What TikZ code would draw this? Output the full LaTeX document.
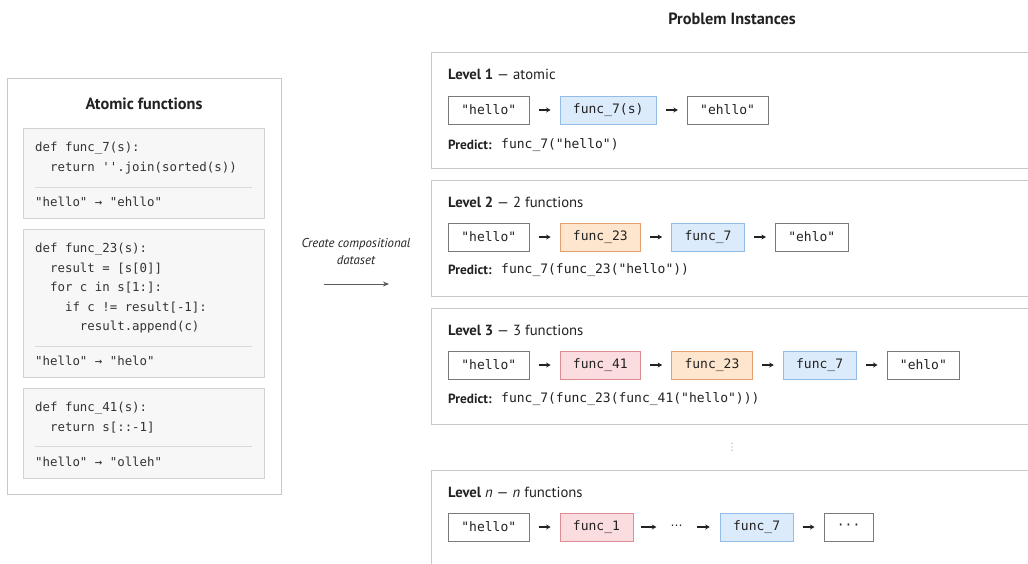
\documentclass[tikz,border=0pt]{standalone}
\usepackage{fontspec}
\setmainfont{PT Sans}
\setmonofont{DejaVu Sans Mono}
\newfontfamily\symfont{DejaVu Sans}
\usetikzlibrary{positioning,arrows.meta}
\definecolor{ink}{HTML}{222222}
\definecolor{codeink}{HTML}{333333}
\definecolor{panelline}{HTML}{C8C8C8}
\definecolor{cardfill}{HTML}{F7F7F7}
\definecolor{cardline}{HTML}{D2D2D2}
\definecolor{sepline}{HTML}{DADADA}
\definecolor{blueF}{HTML}{DCEBFB}
\definecolor{blueD}{HTML}{93BDE6}
\definecolor{orangeF}{HTML}{FDE5CE}
\definecolor{orangeD}{HTML}{E4A070}
\definecolor{redF}{HTML}{FBDCDF}
\definecolor{redD}{HTML}{DE8C94}
\definecolor{boxline}{HTML}{7A7A7A}
\definecolor{dotgray}{HTML}{AAAAAA}
\begin{document}
\begin{tikzpicture}[x=1pt,y=-1pt,
  panel/.style={draw=panelline,line width=1pt,fill=white},
  card/.style={draw=cardline,line width=0.8pt,fill=cardfill},
  sep/.style={draw=sepline,line width=0.8pt},
  codeline/.style={anchor=west,inner sep=0pt,font=\fontsize{12.4}{14}\ttfamily,text=codeink},
  heading/.style={inner sep=0pt,font=\fontsize{16.3}{18}\selectfont\bfseries,text=ink},
  lvl/.style={anchor=west,inner sep=0pt,font=\fontsize{14.7}{17}\selectfont,text=ink},
  predlabel/.style={anchor=west,inner sep=0pt,font=\fontsize{13.3}{15}\selectfont\bfseries,text=ink},
  predcode/.style={anchor=west,inner sep=0pt,font=\fontsize{13}{15}\ttfamily,text=ink},
  pbox/.style={draw=boxline,line width=0.8pt,fill=white,minimum height=28pt,inner xsep=13pt,inner ysep=0pt,font=\fontsize{13}{15}\ttfamily,text=ink},
  fblue/.style={pbox,draw=blueD,fill=blueF},
  forange/.style={pbox,draw=orangeD,fill=orangeF},
  fred/.style={pbox,draw=redD,fill=redF},
  arr/.style={-{Stealth[length=4.5pt,width=5pt]},line width=1.1pt,draw=ink},
  bigarr/.style={-{Stealth[length=6pt,width=5pt]},line width=0.9pt,draw=black!65},
  node distance=30pt
]
\clip (0,0) rectangle (1028,563);
\fill[white] (0,0) rectangle (1028,563);

% ---------- left panel ----------
\draw[panel] (7,78) rectangle (281,494);
\node[heading] (atitle) at (144,104) {Atomic functions};

\draw[card] (23,128) rectangle (264,218);
\node[codeline] (c1a) at (35,148) {def func\_7(s):};
\node[codeline] (c1b) at (35,168) {\ \ return ''.join(sorted(s))};
\draw[sep] (35,187) -- (252,187);
\node[codeline] (c1r) at (35,202) {"hello" → "ehllo"};

\draw[card] (23,229) rectangle (264,377);
\node[codeline] (c2a) at (35,249) {def func\_23(s):};
\node[codeline] (c2b) at (35,268.5) {\ \ result = [s[0]]};
\node[codeline] (c2c) at (35,288) {\ \ for c in s[1:]:};
\node[codeline] (c2d) at (35,307.5) {\ \ \ \ if c != result[-1]:};
\node[codeline] (c2e) at (35,327) {\ \ \ \ \ \ result.append(c)};
\draw[sep] (35,346) -- (252,346);
\node[codeline] (c2r) at (35,361) {"hello" → "helo"};

\draw[card] (23,388) rectangle (264,478);
\node[codeline] (c3a) at (35,408) {def func\_41(s):};
\node[codeline] (c3b) at (35,428) {\ \ return s[::-1]};
\draw[sep] (35,446) -- (252,446);
\node[codeline] (c3r) at (35,462) {"hello" → "olleh"};

% ---------- middle arrow ----------
\node[inner sep=0pt,align=center,font=\fontsize{12.8}{17}\selectfont\itshape,text=ink] (mid) at (356,252) {Create compositional\\dataset};
\coordinate (ma) at (324,284);
\coordinate (mb) at (389,284);
\draw[bigarr] (ma) -- (mb);

% ---------- right side ----------
\node[heading] (ptitle) at (732,19) {Problem Instances};

% Level 1
\draw[panel] (1040,52) -- (431,52) -- (431,168) -- (1040,168);
\node[lvl] (l1t) at (448,74) {\textbf{Level 1} — atomic};
\node[pbox,anchor=west] (l1a) at (448,110) {"hello"};
\node[fblue,right=of l1a] (l1b) {func\_7(s)};
\node[pbox,right=of l1b] (l1c) {"ehllo"};
\draw[arr] ([xshift=9pt]l1a.east) -- ([xshift=-9pt]l1b.west);
\draw[arr] ([xshift=9pt]l1b.east) -- ([xshift=-9pt]l1c.west);
\node[predlabel] (l1p) at (448,145) {Predict:};
\node[predcode] (l1q) at (501,145) {func\_7("hello")};

% Level 2
\draw[panel] (1040,180) -- (431,180) -- (431,296) -- (1040,296);
\node[lvl] (l2t) at (448,202) {\textbf{Level 2} — 2 functions};
\node[pbox,anchor=west] (l2a) at (448,237) {"hello"};
\node[forange,right=of l2a] (l2b) {func\_23};
\node[fblue,right=of l2b] (l2c) {func\_7};
\node[pbox,right=of l2c] (l2d) {"ehlo"};
\draw[arr] ([xshift=9pt]l2a.east) -- ([xshift=-9pt]l2b.west);
\draw[arr] ([xshift=9pt]l2b.east) -- ([xshift=-9pt]l2c.west);
\draw[arr] ([xshift=9pt]l2c.east) -- ([xshift=-9pt]l2d.west);
\node[predlabel] (l2p) at (448,270) {Predict:};
\node[predcode] (l2q) at (501,270) {func\_7(func\_23("hello"))};

% Level 3
\draw[panel] (1040,308) -- (431,308) -- (431,424) -- (1040,424);
\node[lvl] (l3t) at (448,330) {\textbf{Level 3} — 3 functions};
\node[pbox,anchor=west] (l3a) at (448,365) {"hello"};
\node[fred,right=of l3a] (l3b) {func\_41};
\node[forange,right=of l3b] (l3c) {func\_23};
\node[fblue,right=of l3c] (l3d) {func\_7};
\node[pbox,right=of l3d] (l3e) {"ehlo"};
\draw[arr] ([xshift=9pt]l3a.east) -- ([xshift=-9pt]l3b.west);
\draw[arr] ([xshift=9pt]l3b.east) -- ([xshift=-9pt]l3c.west);
\draw[arr] ([xshift=9pt]l3c.east) -- ([xshift=-9pt]l3d.west);
\draw[arr] ([xshift=9pt]l3d.east) -- ([xshift=-9pt]l3e.west);
\node[predlabel] (l3p) at (448,399) {Predict:};
\node[predcode] (l3q) at (501,399) {func\_7(func\_23(func\_41("hello")))};

% vertical dots
\node[inner sep=0pt,font=\symfont\fontsize{10}{12}\selectfont,text=dotgray] (vdots) at (732,447) {⋮};

% Level n
\draw[panel] (1040,470) -- (431,470) -- (431,580);
\node[lvl] (lnt) at (448,492) {\textbf{Level} \textit{n} — \textit{n} functions};
\node[pbox,anchor=west] (lna) at (448,527) {"hello"};
\node[fred,right=of lna] (lnb) {func\_1};
\node[inner sep=0pt,minimum width=28pt,font=\symfont\fontsize{12}{14}\selectfont,text=ink,right=29pt of lnb] (lnd) {⋯};
\node[fblue,right=29pt of lnd] (lnc) {func\_7};
\node[pbox,right=of lnc] (lne) {···};
\draw[arr] ([xshift=8pt]lnb.east) -- ([xshift=-6pt]lnd.west);
\draw[arr] ([xshift=6pt]lnd.east) -- ([xshift=-10pt]lnc.west);
\draw[arr] ([xshift=9pt]lnc.east) -- ([xshift=-9pt]lne.west);
\draw[arr] ([xshift=9pt]lna.east) -- ([xshift=-9pt]lnb.west);
\end{tikzpicture}
\end{document}
